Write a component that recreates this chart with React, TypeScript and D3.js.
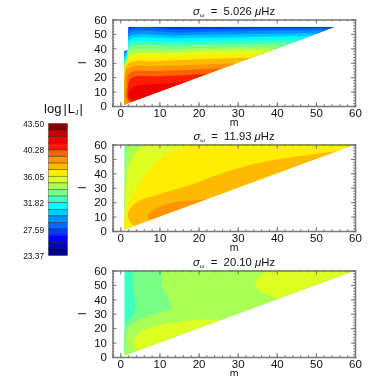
import React, { useEffect, useRef } from 'react'
import * as d3 from 'd3'

type Pt = [number, number]
type Level = [number, Pt[]]

// colour bar, top to bottom
const bandColors = [
  '#8a0000', '#c80000', '#ee0000', '#ff1c00', '#ff6000', '#ff9400', '#ffba00', '#ffee00', '#ddff22', '#aaff55',
  '#77ff88', '#3cffc0', '#00ffff', '#00c8ff', '#0090ff', '#0068ff', '#0038ff', '#0000ff', '#0000c8', '#000090',
]
const barLabels = ['43.50', '40.28', '36.05', '31.82', '27.59', '23.37']
const barLabelBands = [0, 4, 8, 12, 16, 20]

const titles = ['5.026', '11.93', '20.10']
const majorTicks = [0, 10, 20, 30, 40, 50, 60]
const minorTicks = d3.range(-2, 61, 2)

// allowed (m, l) region of each panel
const domain1: Pt[] = [[1, 1], [1, 38.5], [2, 38.5], [2, 55], [55, 55]]
const domain2: Pt[] = [[1, 1], [1, 60], [60, 60]]
const domain3: Pt[] = [[1, 1], [1, 60], [60, 60]]

// contour boundaries: [band, points], painted back to front
const base1 = 16
const levels1: Level[] = [
  [15, [[1, 38.3], [1.9, 39], [2.02, 52.4], [15, 53], [30, 53.5], [45, 54], [60, 54.5]]],
  [14, [[1, 37.4], [1.9, 38.6], [2.02, 50.2], [15, 51], [30, 51.8], [45, 52.3], [60, 53]]],
  [13, [[1, 36.4], [1.9, 38], [2.02, 47.9], [15, 49], [30, 49.8], [45, 50.3], [60, 51]]],
  [12, [[1, 34], [1.9, 36.5], [2.02, 45.6], [15, 46.8], [30, 47.6], [45, 48.3], [60, 49]]],
  [11, [[1, 32], [1.9, 35], [2.02, 43.3], [15, 44.5], [30, 45.4], [45, 46], [60, 47]]],
  [10, [[1, 30], [1.9, 33], [2.02, 40.6], [15, 42], [30, 43], [45, 43.7], [60, 44.5]]],
  [9, [[1, 28.4], [1.9, 31.5], [2.02, 37.6], [15, 39.5], [30, 40.5], [45, 41], [60, 42]]],
  [8, [[1, 26.5], [1.9, 30], [2.02, 35.3], [10, 36.8], [20, 38], [30, 38.6], [45, 39.2]]],
  [7, [[1, 24.5], [2.02, 33], [10, 34.5], [20, 35.6], [30, 36.2], [40, 36.8]]],
  [6, [[1, 20], [2.02, 29.6], [10, 31.2], [20, 32.4], [30, 33.3], [40, 34]]],
  [5, [[1, 0], [1, 14], [2.02, 26.2], [10, 27.6], [20, 28.6], [30, 29.6]]],
  [4, [[3, 1], [1.6, 5], [1.7, 14], [2.3, 22.7], [10, 24.3], [20, 25.4], [30, 26.6]]],
  [3, [[4, 1], [2, 5], [1.9, 12], [2.8, 19.3], [10, 20.6], [20, 21.8], [30, 23.5]]],
  [2, [[5, 2], [2.4, 5.5], [2.2, 10], [4, 13.8], [10, 15.2], [18, 17], [24, 19]]],
]

const base2 = 10
const levels2: Level[] = [
  [9, [[1, 30], [1.2, 40], [1.5, 50], [1.8, 62]]],
  [8, [[1, 10], [1.2, 20], [1.8, 39], [2.9, 50], [5.7, 60], [6.5, 62]]],
  [7, [[1, 4], [1.5, 13], [2.5, 22.6], [5, 34], [8.5, 46], [12.7, 55], [18.7, 60], [22, 62]]],
  [6, [[3.8, 2.5], [2.5, 6.5], [1.9, 11], [2.6, 16], [4.5, 20.5], [9.3, 25], [18, 32], [26, 40], [35, 47], [43.4, 51], [54.5, 55], [62, 57]]],
  [5, [[8, 5], [7, 10.6], [8.5, 14.5], [13.6, 19.9], [20.4, 21.5], [26, 23]]],
]

const base3 = 11
const levels3: Level[] = [
  [10, [[1, 12], [1.2, 21.5], [2.5, 27], [3.8, 33], [3.2, 50], [3.4, 62]]],
  [9, [[1, 1.8], [1.3, 11], [2, 20], [5, 26], [11, 31.4], [13.2, 34], [12.3, 40], [10.6, 50], [11, 62]]],
  [8, [[4.8, 3.5], [4.2, 5.3], [3.4, 11], [6, 18.5], [11.9, 23], [19.6, 25.6], [26.4, 26], [32, 27]]],
  [8, [[42, 38], [40, 40.6], [36.6, 44.6], [34.6, 49], [35, 53.8], [37.4, 60], [38, 62]]],
]

const panels = [
  { top: 19.5, base: base1, levels: levels1, region: domain1 },
  { top: 144.5, base: base2, levels: levels2, region: domain2 },
  { top: 270.5, base: base3, levels: levels3, region: domain3 },
]

const FONT = '"Liberation Sans", Arial, sans-serif'
const LEFT = 112.5
const RIGHT = 355
const PANEL_H = 86.5
const FRAME = '#777'

const x = d3.scaleLinear().domain([-2, 60]).range([LEFT, RIGHT])

function drawAxes(g: SVGGElement, y: d3.ScaleLinear<number, number>) {
  const root = d3.select(g)
  root.selectAll('*').remove()
  const sides: [d3.Axis<d3.NumberValue>, number, number, boolean][] = [
    [d3.axisBottom(x), 0, y(0), false],
    [d3.axisTop(x), 0, y(60), true],
    [d3.axisLeft(y), LEFT, 0, false],
    [d3.axisRight(y), RIGHT, 0, true],
  ]
  sides.forEach(([axis, tx, ty, hideLabels], i) => {
    const isX = i < 2
    const minor = root.append('g').attr('transform', `translate(${tx},${ty})`)
      .call(axis.tickValues(isX ? minorTicks : d3.range(0, 61, 2)).tickSize(-1.8).tickFormat(() => ''))
    minor.selectAll('line').attr('stroke', FRAME)
    minor.select('.domain').attr('stroke', FRAME).attr('stroke-width', 1.5)
    const major = root.append('g').attr('transform', `translate(${tx},${ty})`)
      .call(axis.tickValues(majorTicks).tickSizeInner(-4).tickSizeOuter(0).tickPadding(i === 0 ? 3.3 : 5.5)
        .tickFormat(hideLabels ? () => '' : d3.format('d')))
    major.select('.domain').remove()
    major.selectAll('line').attr('stroke', FRAME)
    major.selectAll('text').attr('fill', '#111').style('font-family', FONT).style('font-size', '11.5px')
  })
}

const Panel = ({ index }: { index: number }) => {
  const p = panels[index]
  const axisRef = useRef<SVGGElement>(null)
  const y = d3.scaleLinear().domain([0, 60]).range([p.top + PANEL_H, p.top])
  const line = d3.line<Pt>().x(d => x(d[0])).y(d => y(d[1])).curve(d3.curveCatmullRom.alpha(0.5))
  const clipId = `region${index}`

  useEffect(() => {
    if (axisRef.current) drawAxes(axisRef.current, y)
  }, [])

  const regionPath = d3.line<Pt>().x(d => x(d[0])).y(d => y(d[1]))(p.region) + 'Z'

  return (
    <g>
      <clipPath id={clipId}><path d={regionPath} /></clipPath>
      <g clipPath={`url(#${clipId})`}>
        <path d={regionPath} fill={bandColors[p.base]} />
        {p.levels.map(([band, pts], i) => {
          const first = pts[0]
          const last = pts[pts.length - 1]
          const d = line(pts) + `L${x(80)},${y(last[1])}L${x(80)},${y(-2)}L${x(first[0])},${y(-2)}Z`
          return <path key={i} d={d} fill={bandColors[band]} />
        })}
      </g>
      <g ref={axisRef} />
      <text x={234} y={p.top - 5} textAnchor="middle" fontFamily={FONT} fontSize={11.3} fill="#111" xmlSpace="preserve">
        <tspan fontStyle="italic">σ</tspan>
        <tspan fontSize={6} dy={2} fontStyle="italic">ω</tspan>
        <tspan dy={-2}>{'  =  ' + titles[index] + ' '}</tspan>
        <tspan fontStyle="italic">μ</tspan>
        <tspan>Hz</tspan>
      </text>
      <text x={234} y={p.top + PANEL_H + 20} textAnchor="middle" fontFamily={FONT} fontSize={10.5} fill="#111">m</text>
      <text transform={`translate(86,${p.top + PANEL_H / 2}) rotate(-90)`} textAnchor="middle" fontFamily={FONT} fontSize={11.5} fill="#111">l</text>
    </g>
  )
}

const ColorBar = () => {
  const band = d3.scaleBand<number>().domain(d3.range(bandColors.length)).range([123.5, 255.5])
  const labelY = d3.scaleLinear().domain([0, 20]).range([124, 256])
  return (
    <g>
      {bandColors.map((c, i) => (
        <rect key={c} x={48.5} y={band(i)} width={19} height={band.bandwidth()} fill={c} stroke="#000" strokeOpacity={0.45} strokeWidth={0.7} />
      ))}
      {barLabels.map((t, i) => (
        <text key={t} x={44} y={labelY(barLabelBands[i]) + 3} textAnchor="end" fontFamily={FONT} fontSize={8.3} fill="#111">{t}</text>
      ))}
      <text x={63.5} y={113} textAnchor="middle" fontFamily={FONT} fontSize={13} fill="#111" xmlSpace="preserve">
        log
        <tspan dx={2}>|</tspan>
        <tspan dx={1}>L</tspan>
        <tspan fontSize={7} dy={2}>J</tspan>
        <tspan dy={-2} dx={1}>|</tspan>
      </text>
    </g>
  )
}

export default function App() {
  return (
    <svg width={374} height={376} style={{ position: 'absolute', left: 0, top: 0, background: '#fff', filter: 'blur(0.35px)' }}>
      <ColorBar />
      {panels.map((_, i) => <Panel key={i} index={i} />)}
    </svg>
  )
}
